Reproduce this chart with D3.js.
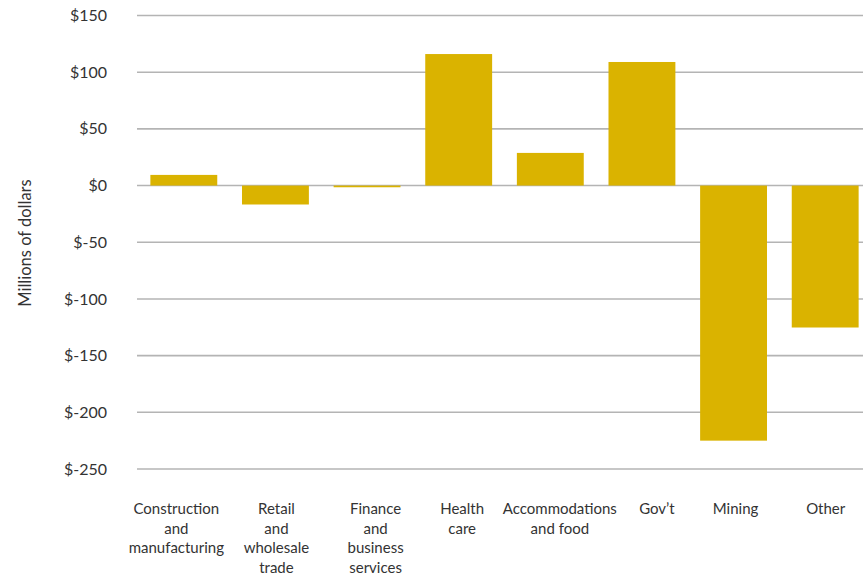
<!DOCTYPE html>
<html>
<head>
<meta charset="utf-8">
<script src="https://cdn.jsdelivr.net/npm/d3@7"></script>
<style>
  html, body { margin: 0; padding: 0; background: #fff; }
  svg { display: block; font-family: "Source Sans Pro", Lato, "Noto Sans", sans-serif; }
</style>
</head>
<body>
<svg id="chart" width="863" height="573"></svg>
<script>
const categories = [
  ["Construction", "and", "manufacturing"],
  ["Retail", "and", "wholesale", "trade"],
  ["Finance", "and", "business", "services"],
  ["Health", "care"],
  ["Accommodations", "and food"],
  ["Gov\u2019t"],
  ["Mining"],
  ["Other"]
];
const values = [9.4, -16.7, -1.5, 116, 28.8, 109, -225, -125.2];
const yTicks = [150, 100, 50, 0, -50, -100, -150, -200, -250];
const yTitle = "Millions of dollars";

// layout: horizontal nudges of the category labels relative to bar centres
const labelNudge = [-7.5, 1, 8.5, 3.5, 9.5, 15, 2, 0.5];

const svg = d3.select("#chart");
const W = 863;

const x = d3.scaleBand()
  .domain(d3.range(categories.length))
  .range([138, 871])
  .paddingInner(0.27)
  .paddingOuter(0.135);

const y = d3.scaleLinear()
  .domain([-250, 150])
  .range([469, 15.5]);

// gridlines
svg.append("g")
  .selectAll("line")
  .data(yTicks)
  .join("line")
  .attr("x1", 137)
  .attr("x2", W)
  .attr("y1", d => y(d))
  .attr("y2", d => y(d))
  .attr("stroke", "#b4b4b4")
  .attr("stroke-width", 1.6);

// y tick labels
svg.append("g")
  .selectAll("text")
  .data(yTicks)
  .join("text")
  .attr("x", 107)
  .attr("y", d => y(d))
  .attr("dy", "0.35em")
  .attr("text-anchor", "end")
  .attr("fill", "#333")
  .attr("font-size", 16)
  .text(d => "$" + d);

// bars
svg.append("g")
  .selectAll("rect")
  .data(values)
  .join("rect")
  .attr("x", (d, i) => x(i))
  .attr("width", x.bandwidth())
  .attr("y", d => y(Math.max(0, d)))
  .attr("height", d => Math.abs(y(d) - y(0)))
  .attr("fill", "#dab300");

// category labels
const lab = svg.append("g")
  .selectAll("text")
  .data(categories)
  .join("text")
  .attr("x", (d, i) => x(i) + x.bandwidth() / 2 + labelNudge[i])
  .attr("y", 514)
  .attr("text-anchor", "middle")
  .attr("fill", "#333")
  .attr("font-size", 15);
lab.each(function(lines) {
  const t = d3.select(this);
  const cx = t.attr("x");
  lines.forEach((ln, j) => {
    t.append("tspan").attr("x", cx).attr("dy", j === 0 ? 0 : 19.5).text(ln);
  });
});

// y title
svg.append("text")
  .attr("transform", "translate(31,243) rotate(-90)")
  .attr("text-anchor", "middle")
  .attr("fill", "#333")
  .attr("font-size", 16.5)
  .text(yTitle);
</script>
</body>
</html>
